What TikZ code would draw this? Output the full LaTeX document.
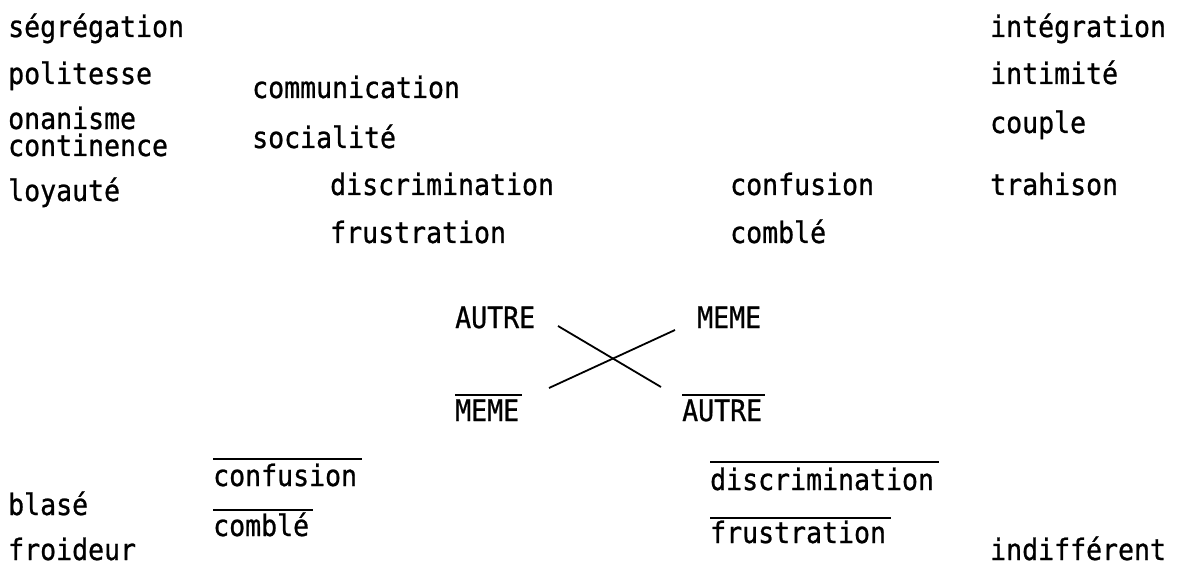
\documentclass[tikz,border=0pt]{standalone}
\usepackage{fontspec}
\setmainfont{DejaVu Sans Mono}[FakeStretch=0.9,FakeBold=0.8]
\begin{document}
\begin{tikzpicture}[x=1pt,y=-1pt,
  word/.style={inner sep=0pt, anchor=base west, font=\fontsize{29.5}{32}\selectfont},
  bar/.style={line width=2.2pt},
  cross/.style={line width=1.8pt}]
\useasboundingbox (0,0) rectangle (1178,569);
% left column
\node[word] (segregation) at (8,37) {ségrégation};
\node[word] (politesse) at (8,84) {politesse};
\node[word] (onanisme) at (8,129) {onanisme};
\node[word] (continence) at (8,156) {continence};
\node[word] (loyaute) at (8,201) {loyauté};
% second column
\node[word] (communication) at (252,98) {communication};
\node[word] (socialite) at (252,148) {socialité};
\node[word] (discrimination) at (330,195) {discrimination};
\node[word] (frustration) at (330,243) {frustration};
\node[word] (confusion) at (730,195) {confusion};
\node[word] (comble) at (730,243) {comblé};
% right column
\node[word] (integration) at (990,37) {intégration};
\node[word] (intimite) at (990,84) {intimité};
\node[word] (couple) at (990,133) {couple};
\node[word] (trahison) at (990,195) {trahison};
% centre
\node[word] (autre) at (455,328) {AUTRE};
\node[word] (meme) at (697,328) {MEME};
\node[word] (memebar) at (455,421) {MEME};
\node[word] (autrebar) at (682,421) {AUTRE};
\draw[bar] (memebar.west |- 0,395) -- ([xshift=3pt]memebar.east |- 0,395);
\draw[bar] (autrebar.west |- 0,395) -- ([xshift=3pt]autrebar.east |- 0,395);
\coordinate (c1a) at (558,326);
\coordinate (c1b) at (661,387);
\coordinate (c2a) at (549,388);
\coordinate (c2b) at (675,330);
\draw[cross] (c1a) -- (c1b);
\draw[cross] (c2a) -- (c2b);
% bottom
\node[word] (confusionbar) at (213,486) {confusion};
\node[word] (comblebar) at (213,536) {comblé};
\node[word] (discrimbar) at (710,490) {discrimination};
\node[word] (frustbar) at (710,543) {frustration};
\draw[bar] (confusionbar.west |- 0,459) -- ([xshift=5pt]confusionbar.east |- 0,459);
\draw[bar] (comblebar.west |- 0,510) -- ([xshift=4pt]comblebar.east |- 0,510);
\draw[bar] (discrimbar.west |- 0,462) -- ([xshift=5pt]discrimbar.east |- 0,462);
\draw[bar] (frustbar.west |- 0,518) -- ([xshift=5pt]frustbar.east |- 0,518);
\node[word] (blase) at (8,515) {blasé};
\node[word] (froideur) at (8,560) {froideur};
\node[word] (indifferent) at (990,560) {indifférent};
\end{tikzpicture}
\end{document}
